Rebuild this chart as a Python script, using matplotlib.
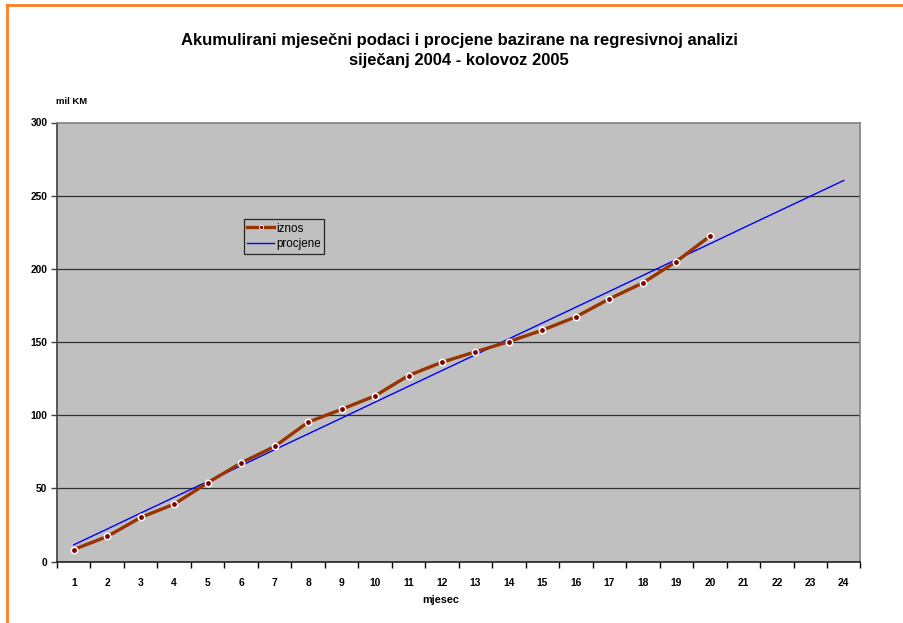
import numpy as np
import matplotlib
matplotlib.use('Agg')
import matplotlib.pyplot as plt
from matplotlib.lines import Line2D

plt.rcParams['font.family'] = ['Liberation Sans', 'DejaVu Sans']

# data
months = list(range(1, 25))
iznos = [8.2, 17.1, 30.1, 39.2, 53.8, 67.4, 78.6, 95.2, 104.0, 113.2,
         127.1, 136.2, 143.3, 150.3, 158.1, 167.2, 179.5, 190.4, 205.0, 222.3]
procjene = [11.4, 22.2, 33.1, 43.9, 54.7, 65.5, 76.4, 87.2, 98.0, 108.9,
            119.7, 130.5, 141.3, 152.2, 163.0, 173.8, 184.6, 195.5, 206.3, 217.1,
            228.0, 238.8, 249.6, 260.4]
yticks = [0, 50, 100, 150, 200, 250, 300]

W, H = 904, 623
fig = plt.figure(figsize=(W / 100, H / 100), dpi=100)
ax = fig.add_axes([57 / W, 1 - 561.5 / H, (860.5 - 57) / W, (561.5 - 122.5) / H])
ax.set_facecolor('#C0C0C0')

# gridlines
for v in yticks[1:-1]:
    ax.axhline(v, color='#303030', lw=0.9, zorder=1)

ax.plot(months[:len(iznos)], iznos, color='#993300', lw=2.4, marker='o',
        markersize=4.6, markerfacecolor='#800000', markeredgecolor='white',
        markeredgewidth=1.1, zorder=3, label='iznos')
ax.plot(months, procjene, color='#0000FF', lw=1.0, zorder=2, label='procjene')

ax.set_xlim(0.5, 24.5)
ax.set_ylim(0, 300)

ax.set_xticks(months)
ax.set_xticklabels([str(m) for m in months], fontsize=7.4, fontweight='bold')
ax.set_xticks(np.arange(0.5, 25, 1), minor=True)
ax.tick_params(axis='x', which='major', length=0, pad=12)
ax.tick_params(axis='x', which='minor', length=4, width=1, color='black', direction='out')
ax.set_yticks(yticks)
ax.set_yticklabels([str(v) for v in yticks], fontsize=7.4, fontweight='bold')
ax.tick_params(axis='y', length=4, width=1, color='#404040', direction='out', pad=3)

for side in ['top', 'right']:
    ax.spines[side].set_color('#808080')
    ax.spines[side].set_linewidth(1.2)
ax.spines['left'].set_color('#404040')
ax.spines['left'].set_linewidth(1.2)
ax.spines['bottom'].set_color('#202020')
ax.spines['bottom'].set_linewidth(1.2)

fig.text(459 / W, 1 - 40 / H, 'Akumulirani mjesečni podaci i procjene bazirane na regresivnoj analizi',
         ha='center', va='center', fontsize=12, fontweight='bold')
fig.text(459 / W, 1 - 60 / H, 'siječanj 2004 - kolovoz 2005',
         ha='center', va='center', fontsize=12, fontweight='bold')
fig.text(72 / W, 1 - 101 / H, 'mil KM', ha='center', va='center', fontsize=6.8, fontweight='bold')
fig.text(441 / W, 1 - 600 / H, 'mjesec', ha='center', va='center', fontsize=7.8, fontweight='bold')

handles = [Line2D([], [], color='#993300', lw=2.4, marker='o', markersize=3,
                  markerfacecolor='#800000', markeredgecolor='white', markeredgewidth=0.6),
           Line2D([], [], color='#0000FF', lw=1.0)]
leg = ax.legend(handles, ['iznos', 'procjene'], loc='upper left',
                bbox_to_anchor=((244 - 57) / (860.5 - 57), (561.5 - 219) / (561.5 - 122.5)),
                fontsize=8.4, frameon=True, fancybox=False, handlelength=2.3,
                handletextpad=0.15, borderpad=0.3, labelspacing=0.3, borderaxespad=0)
leg.get_frame().set_edgecolor('black')
leg.get_frame().set_facecolor('#C0C0C0')
leg.get_frame().set_linewidth(0.9)

# orange outer border (top and left only visible)
fig.add_artist(Line2D([7 / W, 7 / W], [0, 1 - 5 / H], color='#FF7F27', lw=2, transform=fig.transFigure))
fig.add_artist(Line2D([7 / W, 1], [1 - 5 / H, 1 - 5 / H], color='#FF7F27', lw=2, transform=fig.transFigure))

fig.savefig('out.png', dpi=100)
